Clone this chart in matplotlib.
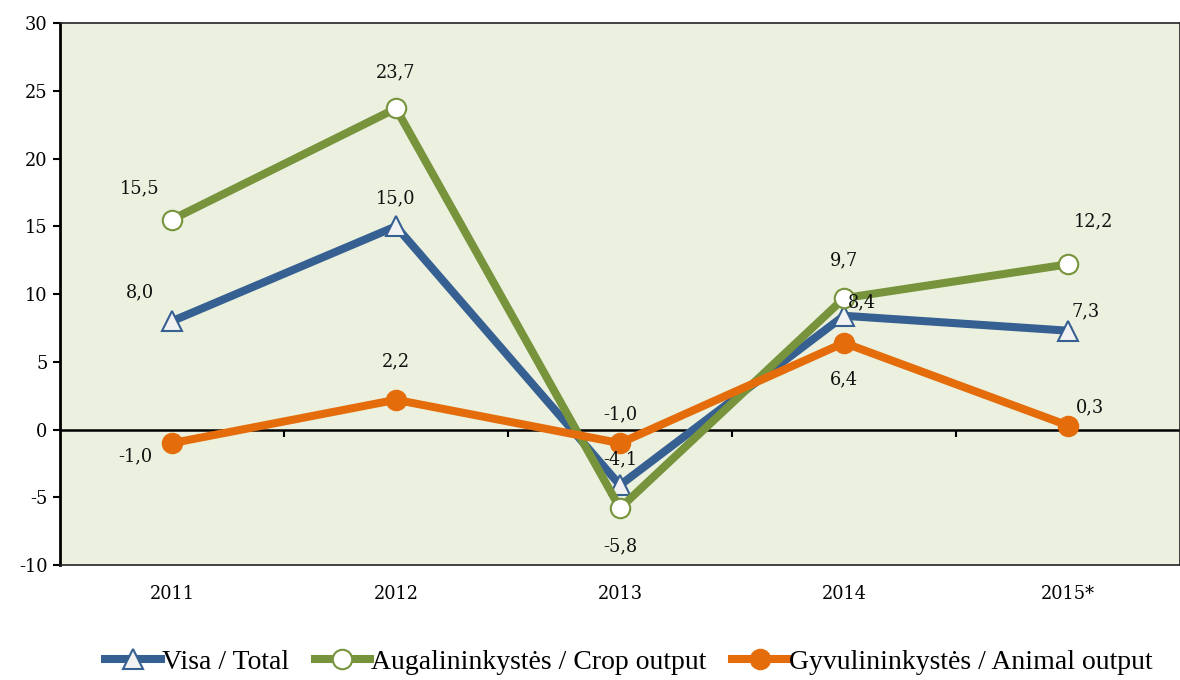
import matplotlib
matplotlib.use("Agg")
import matplotlib.pyplot as plt
import matplotlib.transforms as mtransforms
import numpy as np

# ── Data ──────────────────────────────────────────────────────────────────────
years = ["2011", "2012", "2013", "2014", "2015*"]
total = [8.0, 15.0, -4.1, 8.4, 7.3]
crop = [15.5, 23.7, -5.8, 9.7, 12.2]
animal = [-1.0, 2.2, -1.0, 6.4, 0.3]

labels_total = "Visa / Total"
labels_crop = "Augalininkystės / Crop output"
labels_animal = "Gyvulininkystės / Animal output"

BLUE = "#376092"
GREEN = "#77933C"
ORANGE = "#E46C0A"
BG = "#EBF1DE"

# label offsets in pixels (dx, dy) relative to each point
off_total = [(-32, 29), (0, 28), (0, 26), (18, 13), (18, 19)]
off_crop = [(-32, 31), (0, 36), (0, -38), (0, 38), (26, 43)]
off_animal = [(-37, -13), (0, 38), (0, 29), (0, -36), (22, 18)]

fig = plt.figure(figsize=(11.8, 6.8), dpi=100)
ax = fig.add_axes([0.0508, 0.169, 0.9492, 0.797])
ax.set_facecolor(BG)

x = np.arange(len(years))
ax.plot(x, total, color=BLUE, lw=5.8, marker="^", ms=15, mfc="#F2F2F2",
        mec=BLUE, mew=1.5, label=labels_total, zorder=3)
ax.plot(x, crop, color=GREEN, lw=5.8, marker="o", ms=14, mfc="white",
        mec=GREEN, mew=1.5, label=labels_crop, zorder=4)
ax.plot(x, animal, color=ORANGE, lw=5.8, marker="o", ms=14, mfc=ORANGE,
        mec=ORANGE, mew=1.5, label=labels_animal, zorder=5)

for series, offs in ((total, off_total), (crop, off_crop), (animal, off_animal)):
    for xi, v, (dx, dy) in zip(x, series, offs):
        ax.annotate(f"{v:.1f}".replace(".", ","), xy=(xi, v), xytext=(dx, dy),
                    textcoords="offset pixels", ha="center", va="center",
                    fontsize=12.8, family="DejaVu Serif", color="#111111", zorder=6)

ax.set_xlim(-0.5, len(years) - 0.5)
ax.set_ylim(-10, 30)
ax.set_yticks(np.arange(-10, 31, 5))
ax.set_yticklabels([str(v) for v in range(-10, 31, 5)], family="DejaVu Serif", fontsize=12.8)
ax.set_xticks(x)
ax.set_xticklabels(years, family="DejaVu Serif", fontsize=12.8)
ax.tick_params(axis="x", length=0, pad=14)
ax.tick_params(axis="y", length=5, width=1.5, direction="out", pad=4)

# zero line with category separator ticks
ax.axhline(0, color="black", lw=1.8, zorder=2)
trans = mtransforms.blended_transform_factory(ax.transData, ax.transAxes)
for b in np.arange(0.5, len(years) - 0.5, 1.0):
    ax.plot([b, b], [0.25, 0.237], transform=trans, color="black", lw=1.5,
            solid_capstyle="butt", zorder=2)

for side in ("top", "right", "bottom"):
    ax.spines[side].set_color("#222222")
    ax.spines[side].set_linewidth(1.2)
ax.spines["left"].set_linewidth(2)

leg = fig.legend(loc="center", bbox_to_anchor=(0.533, 0.026), ncol=3, frameon=False,
                 prop={"family": "Liberation Serif", "size": 20},
                 handlelength=2.0, handletextpad=0.05, columnspacing=0.9,
                 borderpad=0.2)

fig.savefig("out.png", dpi=100)
